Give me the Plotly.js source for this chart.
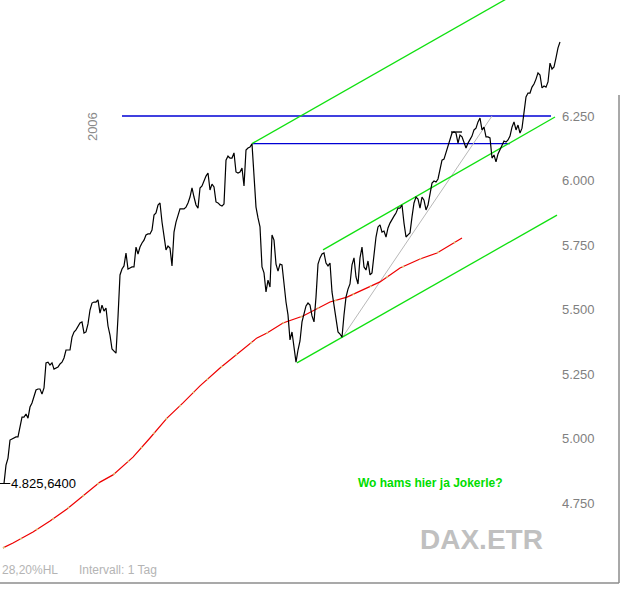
<!DOCTYPE html>
<html>
<head>
<meta charset="utf-8">
<script src="https://cdn.plot.ly/plotly-3.0.1.min.js"></script>
<style>html,body{margin:0;padding:0;background:#fff}#chart{width:634px;height:597px}</style>
</head>
<body>
<div id="chart"></div>
<script>
// DAX (Xetra) daily closes (one value per trading day)
const closes = [
4825.64,4897,4924,4994,4998,5002,5006,5006,5052,5083,
5083,5095,5079,5122,5138,5165,5188,5192,5192,5172,
5196,5293,5296,5285,5293,5269,5273,5277,5289,5296,
5312,5343,5343,5343,5393,5413,5421,5436,5448,5452,
5409,5413,5444,5498,5525,5529,5529,5537,5486,5517,
5494,5506,5436,5401,5347,5339,5331,5471,5634,
5657,5669,5719,5657,5661,5665,5665,5742,5715,5742,
5758,5769,5789,5793,5793,5808,5866,5874,5905,5913,
5839,5781,5731,5746,5738,5669,5800,5839,5862,5890,
5890,5890,5897,5913,5936,5971,5936,5905,5893,5971,
5979,6002,6017,6029,5963,5986,5975,5917,5913,5905,
5901,5909,6079,6095,6087,6087,6107,6033,6029,6033,
6048,5979,6118,6126,6130,6142,6002,5897,5855,5820,
5665,5642,5568,5614,5587,5789,5769,5676,5649,5676,
5673,5595,5529,5479,5382,5413,5355,5296,5343,5378,
5452,5490,5514,5525,5517,5475,5452,5548,5676,5700,
5715,5719,5680,5669,5680,5568,5517,5452,5413,5405,
5393,
5479,5548,5579,5599,5673,5700,5626,5599,5700,5742,
5665,5653,5688,5634,5642,5707,5781,5820,5828,5800,
5804,5781,5816,5835,5851,5862,5874,5893,5893,5905,
5835,5781,5789,5797,5859,5913,5936,5928,5893,5936,
5924,5886,5905,5955,5990,5998,5994,6006,6041,6079,
6083,6107,6130,6157,6184,6188,6184,6145,6176,6169,
6145,6126,6145,6157,6172,6196,6203,6227,6242,6196,
6207,6169,6169,6165,6087,6099,6072,6103,6122,6138,
6153,6149,6157,6172,6207,6227,6196,6215,6184,6203,
6262,6324,6339,6339,6362,6374,6393,6417,6409,6359,
6366,6362,6382,6455,6432,6440,6475,6514,6537
];
const days = closes.map((_, i) => i);

// 200-day moving average (read at sample days)
const maDays   = [-0.5, 4.5, 14.5, 23, 31.5, 39.5, 48, 54.5, 64.5, 73, 81.5, 89.5, 98, 108, 118, 126.5, 131.5, 139.5, 149.5, 163, 171.5, 181.5, 188, 198, 208, 216.5, 224.5, 229];
const maValues = [4576, 4595, 4638, 4680, 4727, 4777, 4831, 4859, 4928, 5002, 5079, 5138, 5204, 5273, 5335, 5390, 5409, 5448, 5475, 5529, 5548, 5583, 5607, 5661, 5696, 5719, 5754, 5777];

// drawn levels and channel lines: [startDay, endDay], [startValue, endValue]
const resistanceDays = [59, 273.5],   resistanceVals = [6250, 6250];
const mayHighDays    = [124, 253],    mayHighVals    = [6143, 6143];
const chanTopDays    = [124, 256],    chanTopVals    = [6143, 6725];
const chanMidDays    = [159.5, 275.5],chanMidVals    = [5731, 6246];
const chanLowDays    = [146.5, 276.5],chanLowVals    = [5293, 5866];
const trendDays      = [169, 244],    trendVals      = [5390, 6250];
const markDays       = [223.5, 229],  markVals       = [6188, 6188];

const yTicks = [4750, 5000, 5250, 5500, 5750, 6000, 6250];
const FONT = 'Liberation Sans, Arial, sans-serif';
const GREEN = '#10e010', BLUE = '#0000d4';

const traces = [
  {x: resistanceDays, y: resistanceVals, mode: 'lines', line: {color: BLUE, width: 1.3}},
  {x: mayHighDays, y: mayHighVals, mode: 'lines', line: {color: BLUE, width: 1.3}},
  {x: trendDays, y: trendVals, mode: 'lines', line: {color: '#b8b8b8', width: 1}},
  {x: maDays, y: maValues, mode: 'lines', line: {color: '#ee0000', width: 1.2}},
  {x: maDays, y: maValues, mode: 'lines', line: {color: '#d8c878', width: 1.6, dash: '2px,17px'}},
  {x: chanTopDays, y: chanTopVals, mode: 'lines', line: {color: GREEN, width: 1.3}},
  {x: chanMidDays, y: chanMidVals, mode: 'lines', line: {color: GREEN, width: 1.3}},
  {x: chanLowDays, y: chanLowVals, mode: 'lines', line: {color: GREEN, width: 1.3}},
  {x: markDays, y: markVals, mode: 'lines', line: {color: '#000', width: 1.3}},
  {x: days, y: closes, mode: 'lines', line: {color: '#000', width: 1.2}},
  {x: [days[0]], y: [closes[0]], mode: 'markers', marker: {symbol: 'line-ew', size: 9, line: {color: '#000', width: 1}}}
];

const layout = {
  width: 634, height: 597,
  margin: {l: 0, r: 73, t: 0, b: 14, pad: 0},
  paper_bgcolor: '#fff', plot_bgcolor: '#fff',
  showlegend: false,
  separators: ',.',
  font: {family: FONT},
  xaxis: {range: [-2, 278.5], visible: false, fixedrange: true},
  yaxis: {
    range: [4440, 6699.6], side: 'right', tickvals: yTicks, tickformat: ',d',
    showgrid: false, zeroline: false, showline: false, ticks: '',
    tickfont: {family: FONT, size: 13, color: '#808080'}, fixedrange: true
  },
  shapes: [
    {type: 'line', xref: 'paper', yref: 'paper', x0: 0, x1: 1.1034, y0: 0, y1: 0, line: {color: '#8c8c8c', width: 1.5}},
    {type: 'line', xref: 'paper', yref: 'paper', x0: 1.1034, x1: 1.1034, y0: 0, y1: 0.837, line: {color: '#8c8c8c', width: 1.5}}
  ],
  annotations: [
    {xref: 'paper', yref: 'paper', x: 0.164, y: 0.782, xanchor: 'center', yanchor: 'middle', text: '2006', textangle: -90, showarrow: false,
     font: {family: FONT, size: 13, color: '#8a8a8a'}},
    {xref: 'x', yref: 'y', x: days[0], y: closes[0], text: '4.825,6400', showarrow: false, xanchor: 'left', yanchor: 'middle', xshift: 5,
     font: {family: FONT, size: 13, color: '#000'}},
    {xref: 'paper', yref: 'paper', x: 0.768, y: 0.171, xanchor: 'center', yanchor: 'middle', text: '<b>Wo hams hier ja Jokerle?</b>', showarrow: false,
     font: {family: FONT, size: 12, color: '#00dd00'}},
    {xref: 'paper', yref: 'paper', x: 0.859, y: 0.074, xanchor: 'center', yanchor: 'middle', text: '<b>DAX.ETR</b>', showarrow: false,
     font: {family: FONT, size: 28, color: '#c0c0c0'}},
    {xref: 'paper', yref: 'paper', x: 0, y: 0.0223, yanchor: 'middle', text: '28,20%HL', showarrow: false, xanchor: 'left',
     font: {family: FONT, size: 12, color: '#b4b4b4'}},
    {xref: 'paper', yref: 'paper', x: 0.137, y: 0.0223, yanchor: 'middle', text: 'Intervall: 1 Tag', showarrow: false, xanchor: 'left',
     font: {family: FONT, size: 12, color: '#b4b4b4'}}
  ]
};

Plotly.newPlot('chart', traces, layout, {staticPlot: true, displayModeBar: false});
</script>
</body>
</html>
